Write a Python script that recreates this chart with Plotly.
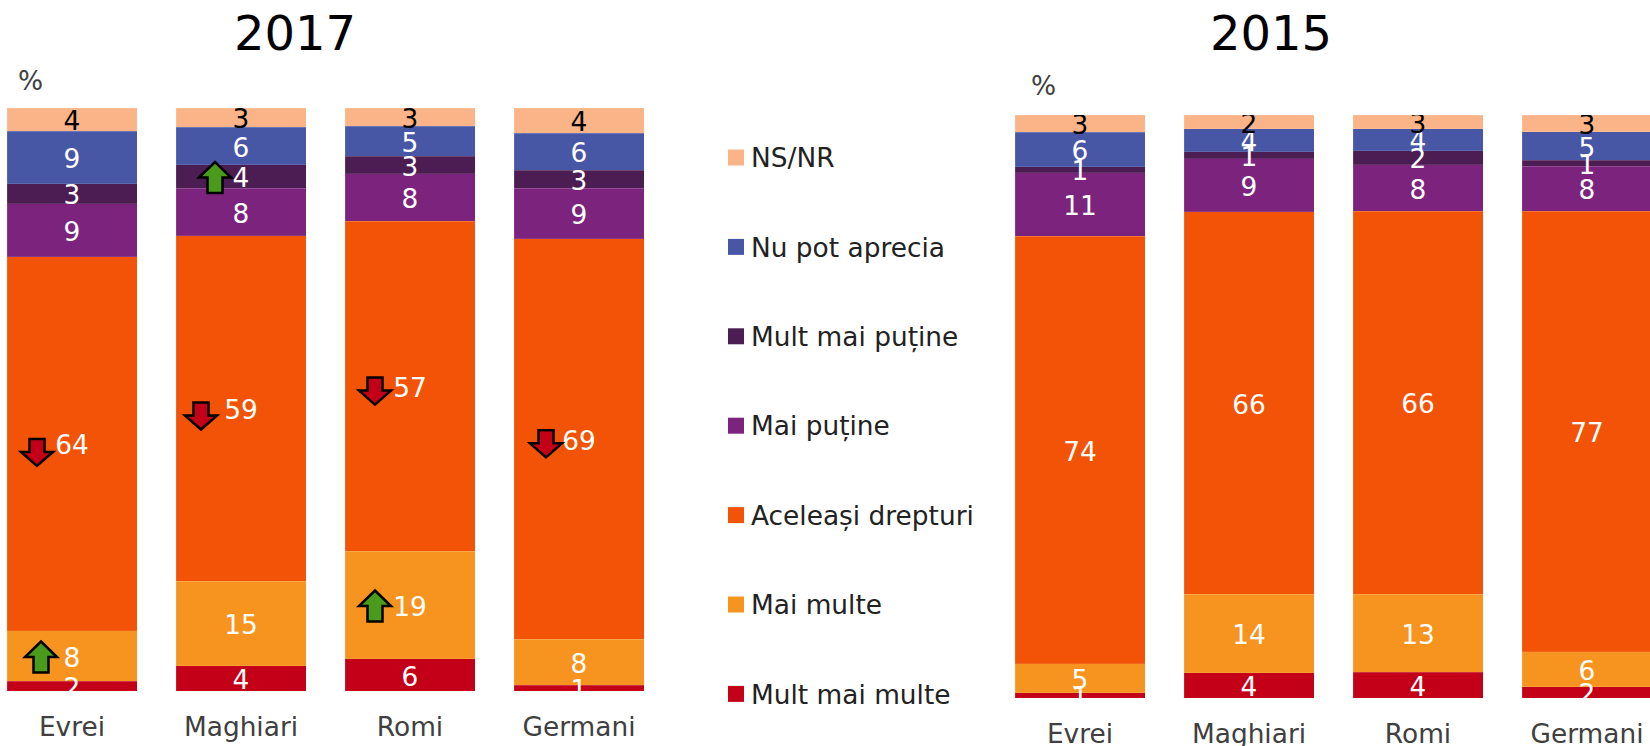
import plotly.graph_objects as go

W, H = 1650, 746
FONT = "DejaVu Sans"

categories = ["Evrei", "Maghiari", "Romi", "Germani"]
series = ["Mult mai multe", "Mai multe", "Aceleași drepturi", "Mai puține",
          "Mult mai puține", "Nu pot aprecia", "NS/NR"]
colors = ["#C40018", "#F79420", "#F25306", "#7B237D", "#4B1D52", "#4856A6", "#FBB487"]
label_colors = ["white"] * 6 + ["black"]

mult_mai_multe_2017 = [1.7, 4.3, 5.5, 1.0]
mai_multe_2017 = [8.6, 14.5, 18.5, 7.9]
aceleasi_2017 = [64.2, 59.3, 56.6, 68.7]
mai_putine_2017 = [9.1, 8.1, 8.1, 8.6]
mult_mai_putine_2017 = [3.4, 4.1, 3.0, 3.1]
nu_pot_2017 = [9.0, 6.4, 5.2, 6.4]
ns_nr_2017 = [4.0, 3.3, 3.1, 4.3]

labels_2017 = [[2, 4, 6, 1], [8, 15, 19, 8], [64, 59, 57, 69], [9, 8, 8, 9],
               [3, 4, 3, 3], [9, 6, 5, 6], [4, 3, 3, 4]]

mult_mai_multe_2015 = [0.9, 4.3, 4.4, 1.9]
mai_multe_2015 = [5.0, 13.5, 13.4, 6.0]
aceleasi_2015 = [73.3, 65.6, 65.7, 75.6]
mai_putine_2015 = [10.9, 9.1, 8.0, 7.7]
mult_mai_putine_2015 = [1.0, 1.2, 2.4, 1.0]
nu_pot_2015 = [5.9, 3.9, 3.7, 4.9]
ns_nr_2015 = [3.0, 2.4, 2.4, 2.9]

labels_2015 = [[1, 4, 4, 2], [5, 14, 13, 6], [74, 66, 66, 77], [11, 9, 8, 8],
               [1, 1, 2, 1], [6, 4, 4, 5], [3, 2, 3, 3]]

values_2017 = [mult_mai_multe_2017, mai_multe_2017, aceleasi_2017, mai_putine_2017,
               mult_mai_putine_2017, nu_pot_2017, ns_nr_2017]
values_2015 = [mult_mai_multe_2015, mai_multe_2015, aceleasi_2015, mai_putine_2015,
               mult_mai_putine_2015, nu_pot_2015, ns_nr_2015]

# (series index, category index, direction, dx px, dy px from segment middle)
arrows_2017 = [(1, 0, "up", -31, 1), (4, 1, "up", -26, 1), (1, 2, "up", -35, 1),
               (2, 0, "down", -35, 8.6), (2, 1, "down", -40, 7.5),
               (2, 2, "down", -35, 5), (2, 3, "down", -33, 5)]

LABEL_DROP = 0.7    # value labels sit about 4 px below the middle of their segment
KEY_TEXT_DROP = 0.035

fig = go.Figure()

# key drawn on its own hidden axes: one square and name per series
for i, name in enumerate(series):
    fig.add_trace(go.Scatter(x=[0], y=[i], mode="markers", name=name, legendgroup=name,
                             cliponaxis=False, xaxis="x3", yaxis="y3", hoverinfo="name",
                             marker=dict(symbol="square", size=16, color=colors[i])))
    fig.add_trace(go.Scatter(x=[15], y=[i - KEY_TEXT_DROP], mode="text", name=name, text=[name],
                             textposition="middle right", legendgroup=name, cliponaxis=False,
                             xaxis="x3", yaxis="y3", hoverinfo="skip",
                             textfont=dict(family=FONT, size=26.4, color="#222222")))


def add_panel(values, labels, xa, ya):
    for i, name in enumerate(series):
        fig.add_trace(go.Bar(x=categories, y=values[i], name=name, legendgroup=name,
                             xaxis=xa, yaxis=ya, hoverinfo="x+y+name",
                             marker=dict(color=colors[i],
                                         line=dict(color="rgba(255,255,255,0.2)", width=0.5))))
    for i, name in enumerate(series):
        mids = [sum(values[k][j] for k in range(i)) + values[i][j] / 2 - LABEL_DROP
                for j in range(len(categories))]
        fig.add_trace(go.Scatter(x=categories, y=mids, mode="text", text=labels[i],
                                 textposition="middle center", legendgroup=name,
                                 textfont=dict(family=FONT, size=26.4, color=label_colors[i]),
                                 hoverinfo="skip", xaxis=xa, yaxis=ya))


add_panel(values_2017, labels_2017, "x", "y")
add_panel(values_2015, labels_2015, "x2", "y2")

shapes = []
for s, c, d, dx, dy in arrows_2017:
    base = sum(values_2017[k][c] for k in range(s))
    mid = base + values_2017[s][c] / 2
    hw, sw = 16, 7.5
    if d == "up":
        h, neck = 31, 15.5
        top = h / 2
        pts = [(0, top), (hw, top - neck), (sw, top - neck), (sw, -top), (-sw, -top),
               (-sw, top - neck), (-hw, top - neck)]
        col = "#4A9B1C"
    else:
        h, neck = 27, 14
        top = h / 2
        pts = [(0, -top), (hw, -top + neck), (sw, -top + neck), (sw, top), (-sw, top),
               (-sw, -top + neck), (-hw, -top + neck)]
        col = "#C40018"
    path = "M " + " L ".join(f"{dx + px:.1f},{py - dy:.1f}" for px, py in pts) + " Z"
    shapes.append(dict(type="path", xref="x", yref="y", xsizemode="pixel", ysizemode="pixel",
                       xanchor=c, yanchor=mid, path=path, fillcolor=col,
                       line=dict(color="black", width=2.5), layer="above"))


def ann(text, x, y, size, color):
    return dict(text=text, x=x / W, y=1 - y / H, xref="paper", yref="paper",
                xanchor="center", yanchor="middle", showarrow=False,
                font=dict(family=FONT, size=size, color=color))


annotations = [ann("2017", 295, 33, 48, "black"), ann("2015", 1271, 33, 48, "black"),
               ann("%", 30, 81, 26.4, "#404040"), ann("%", 1043, 86, 26.4, "#404040")]

tick = dict(family=FONT, size=26.4, color="#404040")
xcommon = dict(type="category", categoryorder="array", categoryarray=categories,
               showgrid=False, zeroline=False, showline=False, ticks="outside", ticklen=12,
               tickcolor="rgba(0,0,0,0)", tickfont=tick, tickangle=0, fixedrange=True,
               automargin=False)
ycommon = dict(range=[0, 100], showgrid=False, zeroline=False, showline=False,
               showticklabels=False, ticks="", fixedrange=True, automargin=False)
hidden = dict(visible=False, fixedrange=True, automargin=False)

fig.update_layout(
    width=W, height=H, margin=dict(l=0, r=0, t=0, b=0), autosize=False, showlegend=False,
    paper_bgcolor="white", plot_bgcolor="rgba(0,0,0,0)", barmode="stack", bargap=39 / 169,
    font=dict(family=FONT),
    xaxis=dict(domain=[0, 665 / W], range=[-72 / 169, (665 - 72) / 169], anchor="y", **xcommon),
    yaxis=dict(domain=[1 - 691 / H, 1 - 108 / H], anchor="x", **ycommon),
    xaxis2=dict(domain=[1000 / W, 1], range=[-80 / 169, 570 / 169], anchor="y2", **xcommon),
    yaxis2=dict(domain=[1 - 698 / H, 1 - 115 / H], anchor="x2", **ycommon),
    xaxis3=dict(domain=[728 / W, 1000 / W], range=[-8, 264], anchor="y3", **hidden),
    yaxis3=dict(domain=[1 - 738.6 / H, 1 - 112.8 / H], anchor="x3", range=[-0.5, 6.5], **hidden),
    shapes=shapes, annotations=annotations,
)

fig.write_html("out.html", post_script="document.body.style.margin='0';",
               config=dict(displayModeBar=False))
